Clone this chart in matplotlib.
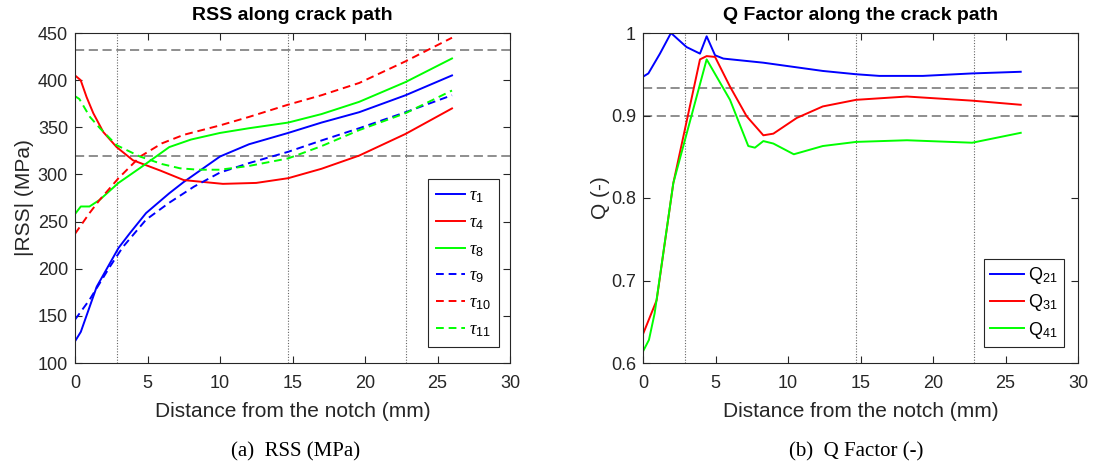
import matplotlib
matplotlib.use('Agg')
import matplotlib.pyplot as plt
import numpy as np
from matplotlib.ticker import FuncFormatter

# RSS along crack path (MPa)
x_t1 = [0, 0.4, 1.5, 3.0, 3.8, 4.9, 6.5, 7.5, 10, 12, 14.7, 17, 19.6, 22.8, 26]
t1 = [123, 133, 181, 222, 238, 259, 280, 292, 319, 332, 344, 355, 366, 384, 405]
x_t4 = [0, 0.39, 0.8, 1.26, 1.95, 2.87, 4.0, 5.9, 7.5, 10.2, 12.5, 14.7, 17, 19.6, 22.8, 26]
t4 = [405, 400, 382, 365, 345, 329, 315, 304, 294, 290, 291, 296, 306, 320, 343, 370]
x_t8 = [0, 0.4, 1.0, 1.7, 3.0, 4.5, 6.5, 8, 10, 12, 14.7, 17, 19.6, 22.8, 26]
t8 = [258, 266, 266, 273, 291, 307, 329, 337, 344, 349, 355, 364, 377, 398, 423]
x_t9 = [0, 1.0, 2.4, 3.3, 4.9, 6.5, 8.2, 10, 12, 14.7, 17, 19.6, 22.8, 26]
t9 = [146, 167, 202, 223, 252, 270, 287, 302, 312, 324, 336, 349, 366, 384]
x_t10 = [0, 1.0, 1.7, 3.0, 4.5, 6, 7.5, 10, 12, 14.7, 17, 19.6, 22.8, 26]
t10 = [237, 259, 273, 296, 319, 333, 342, 352, 361, 374, 384, 397, 420, 445]
x_t11 = [0, 0.3, 1.03, 1.72, 2.87, 4.48, 6.0, 7.24, 8.5, 10, 12, 14.7, 17, 19.6, 22.8, 26]
t11 = [383, 380, 361, 349, 331, 319, 311, 306.5, 305, 305, 309, 317, 330, 347, 365, 389]
rss_ref = [432.5, 320]

# Q factor along crack path
x_q21 = [0, 0.37, 1.17, 1.93, 3.0, 3.93, 4.39, 4.97, 5.54, 8.3, 12.4, 14.7, 16.3, 19.3, 22.7, 26.05]
q21 = [0.947, 0.951, 0.975, 1.0, 0.983, 0.975, 0.996, 0.973, 0.969, 0.964, 0.954, 0.950, 0.948, 0.948, 0.951, 0.953]
x_q31 = [0, 0.94, 2.09, 3.93, 4.39, 4.97, 6.0, 7.15, 8.3, 8.99, 10.6, 12.4, 14.7, 18.2, 22.7, 26.05]
q31 = [0.635, 0.676, 0.818, 0.968, 0.972, 0.971, 0.935, 0.899, 0.876, 0.878, 0.897, 0.911, 0.919, 0.923, 0.918, 0.913]
x_q41 = [0, 0.41, 0.8, 2.09, 4.39, 6.0, 7.26, 7.72, 8.3, 8.99, 10.4, 12.4, 14.7, 18.2, 22.7, 26.05]
q41 = [0.614, 0.628, 0.66, 0.818, 0.968, 0.919, 0.863, 0.861, 0.869, 0.866, 0.853, 0.863, 0.868, 0.870, 0.867, 0.879]
q_ref = [0.933, 0.9]

vlines = [2.9, 14.7, 22.8]

plt.rcParams['font.family'] = ['Liberation Sans', 'DejaVu Sans']
plt.rcParams['mathtext.fontset'] = 'custom'
plt.rcParams['mathtext.rm'] = 'Liberation Serif:italic'
plt.rcParams['mathtext.it'] = 'Liberation Serif:italic'
plt.rcParams['mathtext.sf'] = 'Liberation Sans'
txt = '#262626'

fig = plt.figure(figsize=(10.94, 4.68), dpi=100)
ax1 = fig.add_axes([75/1094, 105/468, 435/1094, 330/468])
ax2 = fig.add_axes([643/1094, 105/468, 435/1094, 330/468])

lw = 1.4
dash = (0, (4, 2.5))
ax1.plot(x_t1, t1, color='b', lw=lw, label=r'$\tau_{\mathsf{1}}$')
ax1.plot(x_t4, t4, color='r', lw=lw, label=r'$\tau_{\mathsf{4}}$')
ax1.plot(x_t8, t8, color='#00ff00', lw=lw, label=r'$\tau_{\mathsf{8}}$')
ax1.plot(x_t9, t9, color='b', lw=lw, ls=dash, label=r'$\tau_{\mathsf{9}}$')
ax1.plot(x_t10, t10, color='r', lw=lw, ls=dash, label=r'$\tau_{\mathsf{10}}$')
ax1.plot(x_t11, t11, color='#00ff00', lw=lw, ls=dash, label=r'$\tau_{\mathsf{11}}$')
for v in rss_ref:
    ax1.axhline(v, color='#707070', lw=1.1, ls=(0, (6, 3)), zorder=0)

ax2.plot(x_q21, q21, color='b', lw=lw, label=r'Q$_{\mathsf{21}}$')
ax2.plot(x_q31, q31, color='r', lw=lw, label=r'Q$_{\mathsf{31}}$')
ax2.plot(x_q41, q41, color='#00ff00', lw=lw, label=r'Q$_{\mathsf{41}}$')
for v in q_ref:
    ax2.axhline(v, color='#707070', lw=1.1, ls=(0, (6, 3)), zorder=0)

for ax in (ax1, ax2):
    for v in vlines:
        ax.axvline(v, color='#666666', lw=0.8, ls=(0, (1, 1.5)), zorder=0)
    ax.set_xlim(0, 30)
    ax.set_xticks(np.arange(0, 31, 5))
    ax.tick_params(direction='in', top=True, right=True, labelsize=13,
                   colors=txt, length=5, width=0.8)
    ax.tick_params(axis='x', pad=9)
    ax.tick_params(axis='y', pad=5)
    for s in ax.spines.values():
        s.set_color(txt)
        s.set_linewidth(0.8)
    ax.set_xlabel('Distance from the notch (mm)', fontsize=15, color=txt, labelpad=7)

ax1.set_ylim(100, 450)
ax1.set_yticks(np.arange(100, 451, 50))
ax1.set_ylabel('|RSS| (MPa)', fontsize=15, color=txt, labelpad=3)
ax1.set_title('RSS along crack path', fontsize=14, fontweight='bold', pad=9)

ax2.set_ylim(0.6, 1.0)
ax2.set_yticks([0.6, 0.7, 0.8, 0.9, 1.0])
ax2.yaxis.set_major_formatter(FuncFormatter(lambda v, p: '%g' % v))
ax2.set_ylabel('Q (-)', fontsize=15, color=txt, labelpad=1)
ax2.set_title('Q Factor along the crack path', fontsize=14, fontweight='bold', pad=9)

leg1 = ax1.legend(loc='lower right', bbox_to_anchor=(0.9747, 0.0485), fontsize=13,
                  fancybox=False, framealpha=1, edgecolor=txt, handlelength=1.6,
                  borderaxespad=0, labelspacing=0.5, handletextpad=0.2, borderpad=0.45)
leg1.get_frame().set_linewidth(0.8)
leg2 = ax2.legend(loc='lower right', bbox_to_anchor=(0.9678, 0.0485), fontsize=13,
                  fancybox=False, framealpha=1, edgecolor=txt, handlelength=1.9,
                  borderaxespad=0, labelspacing=0.35, handletextpad=0.2, borderpad=0.35)
leg2.get_frame().set_linewidth(0.8)

fig.text(296/1094, 1 - 452/468, '(a)  RSS (MPa)', ha='center', va='center',
         fontsize=15, family='Liberation Serif')
fig.text(856/1094, 1 - 452/468, '(b)  Q Factor (-)', ha='center', va='center',
         fontsize=15, family='Liberation Serif')

fig.savefig('out.png', dpi=100)
